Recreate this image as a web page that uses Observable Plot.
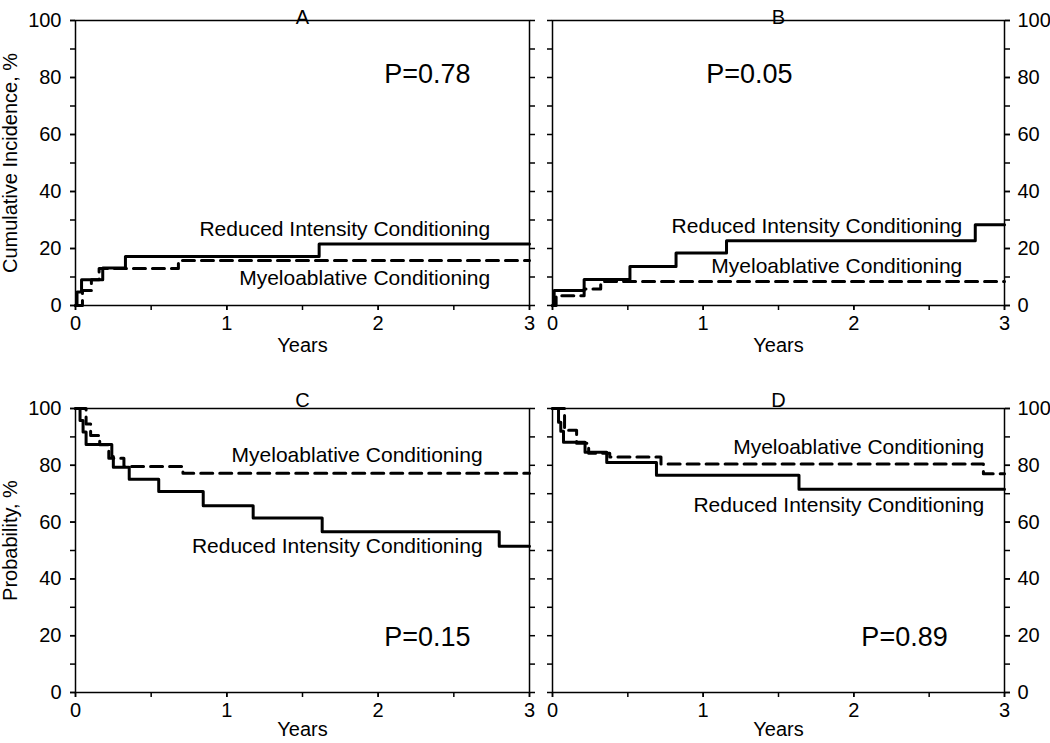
<!DOCTYPE html>
<html><head><meta charset="utf-8">
<script src="https://cdn.jsdelivr.net/npm/d3@7"></script>
<script src="https://cdn.jsdelivr.net/npm/@observablehq/plot@0.6"></script>
<style>
body{margin:0;background:#fff;}
#wrap{position:relative;width:1050px;height:743px;overflow:hidden;background:#fff;font-family:"Liberation Sans",Arial,sans-serif;}
.panel{position:absolute;}
</style></head><body><div id="wrap"></div>
<script>
// ---- tick labels / categories ----
const xMajorTicks = [0, 1, 2, 3];
const xMinorTicks = [0, 0.5, 1, 1.5, 2, 2.5, 3];
const yMajorTicks = [0, 20, 40, 60, 80, 100];
const yMinorTicks = [0, 10, 20, 30, 40, 50, 60, 70, 80, 90, 100];
const seriesNames = ["Reduced Intensity Conditioning", "Myeloablative Conditioning"];
const panelTitles = ["A", "B", "C", "D"];
const pValues = ["P=0.78", "P=0.05", "P=0.15", "P=0.89"];
const yLabels = ["Cumulative Incidence, %", "Probability, %"];

// ---- series values (years, percent) ----
const aRicT = [0, 0.01, 0.04, 0.18, 0.33, 1.61, 3];
const aRicY = [0, 4.7, 9.0, 13.2, 17.2, 21.6, 21.6];
const aMacT = [0, 0.046, 0.105, 0.156, 0.68, 3];
const aMacY = [0, 5.3, 9.0, 13.0, 15.8, 15.8];

const bRicT = [0, 0.011, 0.21, 0.514, 0.82, 1.155, 2.806, 3];
const bRicY = [0, 5.3, 9.1, 13.7, 18.4, 22.7, 28.3, 28.3];
const bMacT = [0, 0.024, 0.21, 0.32, 3];
const bMacY = [0, 3.4, 5.8, 8.4, 8.4];

const cRicT = [0, 0.03, 0.05, 0.07, 0.24, 0.25, 0.355, 0.55, 0.844, 1.174, 1.63, 2.80, 3];
const cRicY = [100, 95.8, 91.7, 87.3, 83.1, 79.3, 75.1, 70.8, 65.8, 61.4, 56.6, 51.5, 51.5];
const cMacT = [0, 0.07, 0.10, 0.16, 0.22, 0.32, 0.71, 3];
const cMacY = [100, 94.5, 90.5, 87.2, 82.5, 79.6, 77.2, 77.2];

const dRicT = [0, 0.04, 0.055, 0.073, 0.216, 0.36, 0.69, 1.636, 3];
const dRicY = [100, 95.2, 92.0, 88.1, 84.6, 81.0, 76.5, 71.6, 71.6];
const dMacT = [0, 0.08, 0.16, 0.24, 0.38, 0.72, 2.86, 3];
const dMacY = [100, 92.3, 87.8, 84.2, 82.9, 80.5, 77.0, 77.0];

// ---- layout (positions/styles kept separate from data) ----
const FONT = "Liberation Sans, Arial, sans-serif";
const panels = [
  {title: panelTitles[0], ric: [aRicT, aRicY], mac: [aMacT, aMacY], side: "left", row: 0,
   ricLab: [2.74, 26.7], macLab: [2.74, 9.6], p: pValues[0], pPos: [2.04, 81.2], ylab: yLabels[0]},
  {title: panelTitles[1], ric: [bRicT, bRicY], mac: [bMacT, bMacY], side: "right", row: 0,
   ricLab: [2.72, 27.8], macLab: [2.72, 13.7], p: pValues[1], pPos: [1.02, 81.2]},
  {title: panelTitles[2], ric: [cRicT, cRicY], mac: [cMacT, cMacY], side: "left", row: 1,
   ricLab: [2.69, 51.4], macLab: [2.69, 83.6], p: pValues[2], pPos: [2.04, 19.4], ylab: yLabels[1]},
  {title: panelTitles[3], ric: [dRicT, dRicY], mac: [dMacT, dMacY], side: "right", row: 1,
   ricLab: [2.865, 66.1], macLab: [2.865, 86.4], p: pValues[3], pPos: [2.05, 19.4]}
];

const wrap = document.getElementById("wrap");

function series(tArr, yArr) {
  return tArr.map((t, i) => ({t, v: yArr[i]}));
}
const intFmt = d => String(d);

panels.forEach(pn => {
  const left = pn.side === "left";
  const top = pn.row === 0;
  const width = left ? 545 : 515;
  const height = top ? 370 : 373;
  const mL = left ? 75 : 17, mR = left ? 16 : 46;
  const mT = top ? 20 : 38, mB = top ? 65 : 51;
  const marks = [
    Plot.axisX({ticks: xMinorTicks, tickSize: 5, tickFormat: () => "", label: null, strokeWidth: 1.5}),
    Plot.axisX({ticks: xMajorTicks, tickSize: 5, tickPadding: 5, tickFormat: intFmt, label: null, strokeWidth: 1.5, fontSize: 20}),
    Plot.axisY({ticks: yMinorTicks, anchor: "left", tickSize: 5, tickFormat: () => "", label: null, strokeWidth: 1.5}),
    Plot.axisY({ticks: yMinorTicks, anchor: "right", tickSize: 5, tickFormat: () => "", label: null, strokeWidth: 1.5}),
    Plot.axisY({ticks: yMajorTicks, anchor: pn.side, tickSize: 5, tickPadding: left ? 9 : 8, tickFormat: intFmt, label: null, strokeWidth: 1.5, fontSize: 20}),
    Plot.frame({stroke: "#000", strokeWidth: 1.5}),
    Plot.line(series(pn.mac[0], pn.mac[1]), {x: "t", y: "v", curve: "step-after", stroke: "#000", strokeWidth: 3, strokeDasharray: "12,7"}),
    Plot.line(series(pn.ric[0], pn.ric[1]), {x: "t", y: "v", curve: "step-after", stroke: "#000", strokeWidth: 3}),
    Plot.text([{x: pn.ricLab[0], y: pn.ricLab[1], s: seriesNames[0]}], {x: "x", y: "y", text: "s", textAnchor: "end", fontSize: 21, fill: "#000"}),
    Plot.text([{x: pn.macLab[0], y: pn.macLab[1], s: seriesNames[1]}], {x: "x", y: "y", text: "s", textAnchor: "end", fontSize: 21, fill: "#000"}),
    Plot.text([{x: pn.pPos[0], y: pn.pPos[1], s: pn.p}], {x: "x", y: "y", text: "s", textAnchor: "start", fontSize: 27, fill: "#000"}),
    Plot.text([pn.title], {frameAnchor: "top", dy: top ? -11 : -16, fontSize: 20, fill: "#000"}),
    Plot.text(["Years"], {frameAnchor: "bottom", dy: top ? 46 : 43, fontSize: 20, fill: "#000"})
  ];
  if (pn.ylab) {
    marks.push(Plot.text([pn.ylab], {frameAnchor: "left", textAnchor: "middle", dx: -65, dy: top ? 0 : -10, rotate: -90, fontSize: 20, fill: "#000"}));
  }
  const chart = Plot.plot({
    width, height,
    marginLeft: mL, marginRight: mR, marginTop: mT, marginBottom: mB,
    x: {domain: [0, 3]},
    y: {domain: [0, 100]},
    style: {fontFamily: FONT, fontSize: "20px", color: "#000", background: "transparent", overflow: "visible"},
    marks
  });
  const div = document.createElement("div");
  div.className = "panel";
  div.style.left = (left ? 0 : 535) + "px";
  div.style.top = (top ? 0 : 370) + "px";
  div.appendChild(chart);
  wrap.appendChild(div);
});
</script>
</body></html>
